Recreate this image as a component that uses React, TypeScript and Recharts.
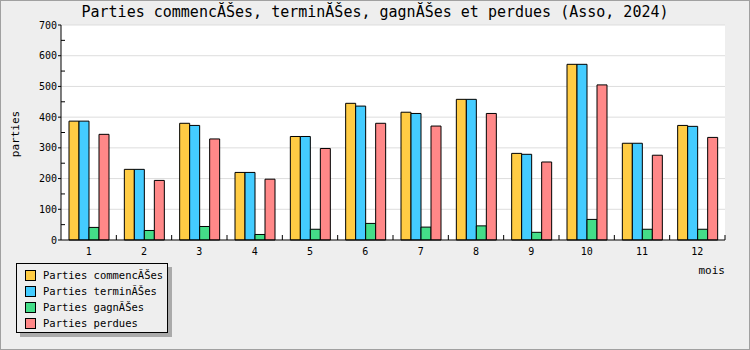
import React from 'react';
import { BarChart, Bar, XAxis, YAxis, CartesianGrid } from 'recharts';

const months = ['1', '2', '3', '4', '5', '6', '7', '8', '9', '10', '11', '12'];
const commencees = [387, 230, 380, 220, 337, 445, 416, 458, 282, 572, 315, 373];
const terminees = [387, 230, 373, 220, 337, 436, 412, 458, 279, 572, 315, 370];
const gagnees = [41, 31, 44, 18, 35, 54, 42, 46, 25, 67, 35, 35];
const perdues = [344, 194, 329, 198, 298, 380, 371, 412, 254, 505, 276, 334];

const yTicks = [0, 50, 100, 150, 200, 250, 300, 350, 400, 450, 500, 550, 600, 650, 700];
const gridValues = [100, 200, 300, 400, 500, 600, 700];

const TITLE = 'Parties commencĂŠes, terminĂŠes, gagnĂŠes et perdues (Asso, 2024)';

const SERIES = [
  { key: 'commencees', name: 'Parties commencĂŠes', color: '#FFCC44' },
  { key: 'terminees', name: 'Parties terminĂŠes', color: '#44CCFF' },
  { key: 'gagnees', name: 'Parties gagnĂŠes', color: '#44DD88' },
  { key: 'perdues', name: 'Parties perdues', color: '#FF8888' },
];

const data = months.map((m, i) => ({
  mois: m,
  commencees: commencees[i],
  terminees: terminees[i],
  gagnees: gagnees[i],
  perdues: perdues[i],
}));

const FONT = '"DejaVu Sans Mono", monospace';
const PLOT_W = 664;

function YTick(props: any) {
  const { x, y, payload } = props;
  const v = payload.value;
  if (v % 100 === 0) {
    return (
      <g>
        <line x1={x - 3} x2={x} y1={y} y2={y} stroke="#000" />
        <text x={x - 4} y={y + 3.5} textAnchor="end" fontSize={10} fontFamily={FONT} fill="#000">
          {v}
        </text>
      </g>
    );
  }
  return <line x1={x} x2={x + 4} y1={y} y2={y} stroke="#000" />;
}

function XTick(props: any) {
  const { x, y, payload } = props;
  const bw = PLOT_W / months.length;
  return (
    <g>
      <line x1={x + bw / 2} x2={x + bw / 2} y1={y} y2={y - 5} stroke="#000" />
      <text x={x} y={y + 15} textAnchor="middle" fontSize={10} fontFamily={FONT} fill="#000">
        {payload.value}
      </text>
    </g>
  );
}

export default function App() {
  return (
    <div
      style={{
        position: 'absolute',
        left: 0,
        top: 0,
        width: 750,
        height: 350,
        background: '#eeeeee',
        fontFamily: FONT,
      }}
    >
      <div
        style={{
          position: 'absolute',
          top: 3,
          left: 0,
          width: 750,
          textAlign: 'center',
          fontSize: 15,
          lineHeight: '18px',
          color: '#000',
        }}
      >
        {TITLE}
      </div>
      <BarChart
        width={750}
        height={350}
        data={data}
        margin={{ top: 25, right: 25, left: 21, bottom: 80 }}
        barGap={0}
        barSize={10}
      >
        <CartesianGrid vertical={false} horizontalValues={gridValues} stroke="#dddddd" fill="#ffffff" />
        <XAxis
          dataKey="mois"
          height={30}
          tickSize={0}
          tickMargin={0}
          tickLine={false}
          tick={<XTick />}
          axisLine={{ stroke: '#000' }}
          interval={0}
        />
        <YAxis
          width={40}
          domain={[0, 700]}
          ticks={yTicks}
          interval={0}
          tickSize={0}
          tickMargin={0}
          tickLine={false}
          tick={<YTick />}
          axisLine={{ stroke: '#000' }}
        />
        {SERIES.map((s) => (
          <Bar
            key={s.key}
            dataKey={s.key}
            name={s.name}
            fill={s.color}
            stroke="#000"
            strokeWidth={1}
            isAnimationActive={false}
          />
        ))}
      </BarChart>
      <div
        style={{
          position: 'absolute',
          left: 15,
          top: 134,
          transform: 'translate(-50%, -50%) rotate(-90deg)',
          fontSize: 11,
          color: '#000',
        }}
      >
        parties
      </div>
      <div
        style={{
          position: 'absolute',
          right: 25,
          top: 264,
          fontSize: 11,
          lineHeight: '14px',
          color: '#000',
        }}
      >
        mois
      </div>
      <div
        style={{
          position: 'absolute',
          left: 16,
          top: 263,
          width: 150,
          height: 68,
          border: '1px solid #000',
          background: '#eeeeee',
          boxShadow: '4px 4px 0 #aaaaaa',
        }}
      >
        {SERIES.map((s, i) => (
          <div
            key={s.key}
            style={{
              position: 'absolute',
              left: 8,
              top: 4 + i * 16,
              height: 14,
              display: 'flex',
              alignItems: 'center',
              fontSize: 10.5,
              color: '#000',
              whiteSpace: 'nowrap',
            }}
          >
            <span
              style={{
                display: 'inline-block',
                width: 9,
                height: 9,
                border: '1px solid #000',
                background: s.color,
                marginRight: 7,
              }}
            />
            {s.name}
          </div>
        ))}
      </div>
      <div
        style={{
          position: 'absolute',
          left: 0,
          top: 0,
          width: 748,
          height: 348,
          border: '1px solid #a0a0a0',
          pointerEvents: 'none',
        }}
      />
    </div>
  );
}
